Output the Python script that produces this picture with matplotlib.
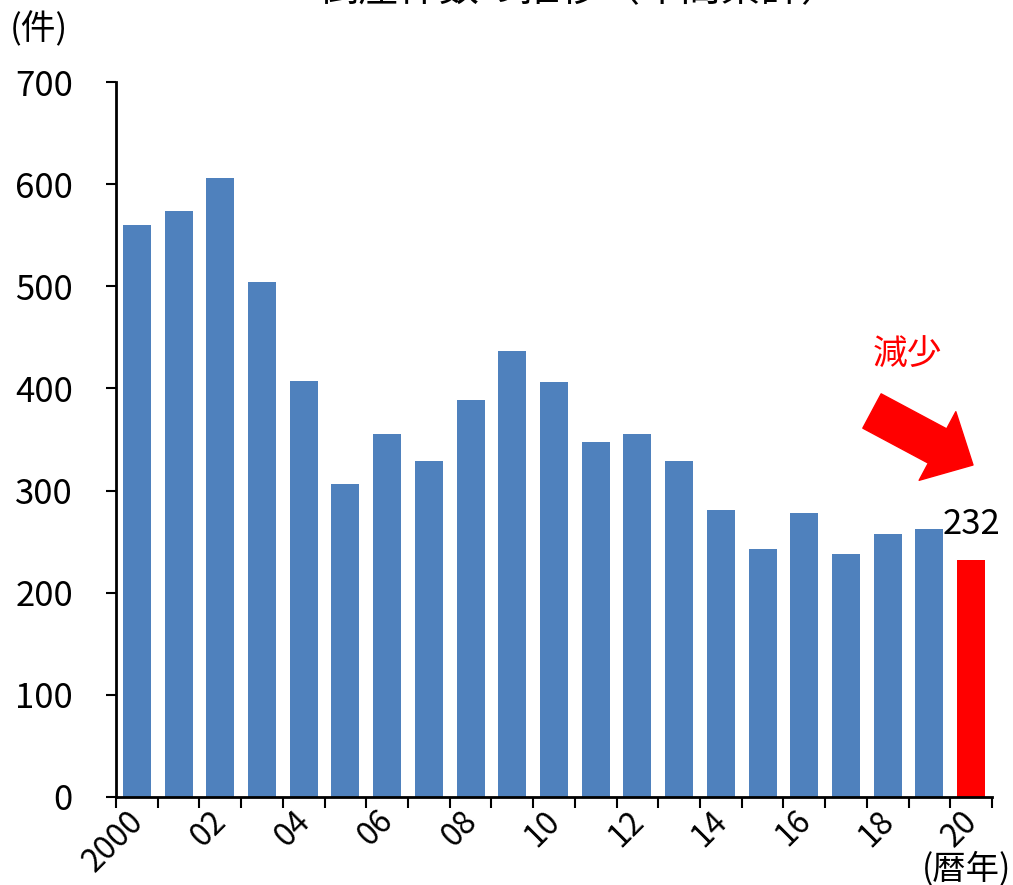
import matplotlib
matplotlib.use("Agg")
import matplotlib.pyplot as plt
import matplotlib.transforms as mtransforms
import numpy as np

plt.rcParams['font.family'] = ['Noto Sans CJK JP', 'DejaVu Sans']

years = list(range(2000, 2021))
counts = [560, 574, 606, 504, 407, 306, 355, 329, 389, 437, 406,
          348, 355, 329, 281, 243, 278, 238, 257, 262, 232]
tick_labels = ["2000", "02", "04", "06", "08", "10", "12", "14", "16", "18", "20"]
y_ticks = [0, 100, 200, 300, 400, 500, 600, 700]

blue = "#4F81BD"
red = "#FF0000"
fs = 25

W, H = 1013, 885
fig = plt.figure(figsize=(W / 100, H / 100), dpi=100)
ax = fig.add_axes([116 / W, 1 - 797 / H, (992 - 116) / W, (797 - 82) / H])

x = np.arange(len(years))
colors = [blue] * (len(years) - 1) + [red]
ax.bar(x, counts, width=0.67, color=colors, zorder=2)

ax.set_xlim(-0.5, len(years) - 0.5)
ax.set_ylim(0, 700)

# labels every other year, tick marks on category boundaries
ax.set_xticks(x[::2])
ax.set_xticklabels(tick_labels, rotation=45, ha="right", rotation_mode="anchor",
                   fontsize=23)
ax.set_xticks(np.arange(-0.5, len(years)), minor=True)
ax.tick_params(axis="x", which="major", length=0, pad=7)
ax.tick_params(axis="x", which="minor", length=8, width=1.5, direction="out")
# nudge rotated labels a little to the left
shift = mtransforms.ScaledTranslation(-0.10, 0.02, fig.dpi_scale_trans)
for lbl in ax.get_xticklabels():
    lbl.set_transform(lbl.get_transform() + shift)

ax.set_yticks(y_ticks)
ax.tick_params(axis="y", length=7, width=1.5, pad=24, labelsize=fs)

for s in ["top", "right"]:
    ax.spines[s].set_visible(False)
for s in ["left", "bottom"]:
    ax.spines[s].set_linewidth(2)

# value label on the last bar
ax.text(x[-1], counts[-1] + 18, str(counts[-1]), ha="center", va="bottom",
        fontsize=fs)

# unit labels
fig.text(10 / W, 1 - 30 / H, "(件)", ha="left", va="center", fontsize=fs)
fig.text(1011 / W, 1 - 869 / H, "(暦年)", ha="right", va="center", fontsize=24)

# title (cut off at the top edge, as in the source)
fig.text(580 / W, 1 - 10 / H, "倒産件数の推移（年間累計）", ha="center",
         va="bottom", fontsize=29)

# red arrow + note
ax.annotate("", xy=(973, H - 465), xytext=(872, H - 411),
            xycoords="figure pixels", textcoords="figure pixels",
            arrowprops=dict(arrowstyle="simple,head_length=2.9,head_width=5.6,tail_width=2.8",
                            mutation_scale=10, color=red, shrinkA=0, shrinkB=0))
fig.text(907 / W, 1 - 355 / H, "減少", color=red, ha="center", va="center",
         fontsize=fs)

fig.savefig("out.png", dpi=100)
